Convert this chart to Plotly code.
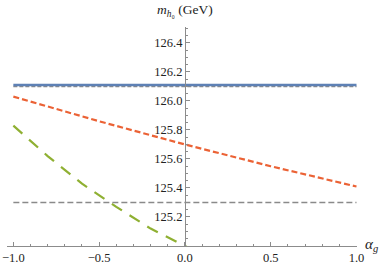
import plotly.graph_objects as go

# Data
alpha_flat = [-1.0, 1.0]
blue_level = [126.11, 126.11]
gray_top_level = [126.10, 126.10]
gray_bottom_level = [125.30, 125.30]

alpha_orange = [-1.0, -0.5, 0.0, 0.5, 1.0]
mh_orange = [126.03, 125.86, 125.70, 125.55, 125.41]

alpha_green = [-1.0, -0.8, -0.6, -0.4, -0.2, 0.0, 0.05]
mh_green = [125.83, 125.62, 125.43, 125.27, 125.12, 125.0, 124.97]

x_ticks = [-1.0, -0.5, 0.0, 0.5, 1.0]
x_ticktext = ["\u22121.0", "\u22120.5", "0.0", "0.5", "1.0"]
y_ticks = [125.2, 125.4, 125.6, 125.8, 126.0, 126.2, 126.4]
y_ticktext = ["125.2", "125.4", "125.6", "125.8", "126.0", "126.2", "126.4"]

xr = [-1.037, 1.003]
yr = [125.0, 126.51]

FAM = "'Liberation Serif', 'Times New Roman', 'DejaVu Serif', serif"

fig = go.Figure()
fig.add_trace(go.Scatter(x=alpha_flat, y=gray_top_level, mode="lines",
                         line=dict(color="#8a8a8a", width=1.6, dash="4px,2px")))
fig.add_trace(go.Scatter(x=alpha_flat, y=blue_level, mode="lines",
                         line=dict(color="#5E81B5", width=2.4)))
fig.add_trace(go.Scatter(x=alpha_flat, y=gray_bottom_level, mode="lines",
                         line=dict(color="#8a8a8a", width=1.6, dash="6px,3px")))
fig.add_trace(go.Scatter(x=alpha_orange, y=mh_orange, mode="lines",
                         line=dict(color="#EB6235", width=2.2, dash="6px,3px")))
fig.add_trace(go.Scatter(x=alpha_green, y=mh_green, mode="lines",
                         line=dict(color="#8FB032", width=2.2, dash="12px,9px")))

font = dict(family=FAM, size=12.5, color="#222222")
fig.update_layout(
    width=388, height=267,
    margin=dict(l=7, r=31, t=27, b=21, autoexpand=False),
    paper_bgcolor="white", plot_bgcolor="white",
    showlegend=False,
    font=font,
    xaxis=dict(range=xr, showgrid=False, zeroline=False, automargin=False,
               showline=True, linecolor="#8c8c8c", linewidth=1,
               tickvals=x_ticks, ticktext=x_ticktext,
               ticks="inside", ticklen=4, tickcolor="#8c8c8c", tickwidth=1,
               minor=dict(dtick=0.1, tick0=0, ticks="inside", ticklen=2.5,
                          tickcolor="#8c8c8c", showgrid=False),
               tickfont=font),
    yaxis=dict(range=yr, showgrid=False, zeroline=False, automargin=False,
               anchor="free", position=(0 - xr[0]) / (xr[1] - xr[0]),
               showline=True, linecolor="#8c8c8c", linewidth=1,
               tickvals=y_ticks, ticktext=y_ticktext, ticks="inside", ticklen=4,
               tickcolor="#8c8c8c", tickwidth=1,
               minor=dict(dtick=0.05, tick0=125.0, ticks="inside", ticklen=2.5,
                          tickcolor="#8c8c8c", showgrid=False),
               tickfont=font),
)
fig.add_annotation(text="<i>m</i><sub><i>h</i>\u2080</sub> (GeV)", xref="paper", yref="paper",
                   x=(0 - xr[0]) / (xr[1] - xr[0]), y=1.0, xanchor="center", yanchor="bottom",
                   yshift=6, showarrow=False,
                   font=dict(family=FAM, size=13.5, color="#222222"))
fig.add_annotation(text="<i>\u03b1</i><sub><i>g</i></sub>", xref="paper", yref="paper",
                   x=1.0, y=0.0, xanchor="left", yanchor="middle", xshift=6, yshift=1,
                   showarrow=False,
                   font=dict(family=FAM, size=15, color="#222222"))

fig.write_html("out.html",
               config={"displayModeBar": False},
               post_script="document.body.style.margin='0';document.body.style.padding='0';document.body.style.overflow='hidden';")
